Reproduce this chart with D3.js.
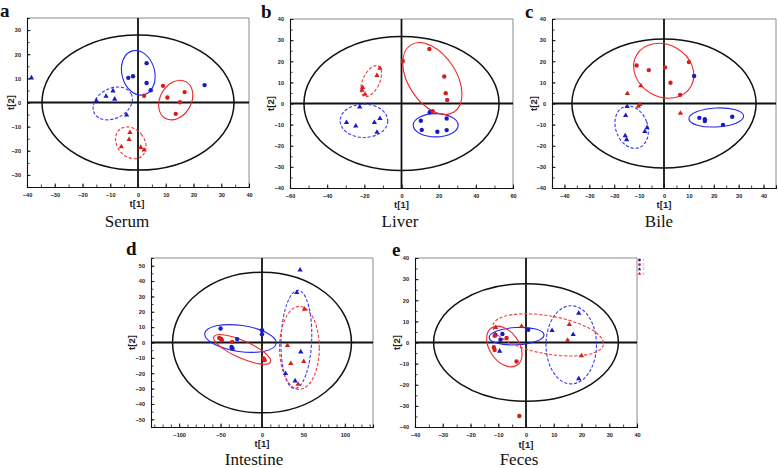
<!DOCTYPE html>
<html><head><meta charset="utf-8">
<script src="https://cdn.jsdelivr.net/npm/d3@7"></script>
<style>body{margin:0;background:#fff}</style>
</head><body><svg id="chart" width="778" height="468"></svg>
<script>
// ---------- data ----------
const panelLetters = ["a", "b", "c", "d", "e"];
const panelTitles = ["Serum", "Liver", "Bile", "Intestine", "Feces"];
const xDomains = [[-40, 40], [-60, 60], [-45, 45], [-134, 134], [-40, 40]];
const yDomains = [[-35, 35], [-40, 40], [-40, 40], [-55, 55], [-40, 40]];
const xTickLabels = [
  [-40, -30, -20, -10, 0, 10, 20, 30, 40],
  [-60, -40, -20, 0, 20, 40, 60],
  [-40, -30, -20, -10, 0, 10, 20, 30, 40],
  [-100, -50, 0, 50, 100],
  [-40, -30, -20, -10, 0, 10, 20, 30, 40]
];
const yTickLabels = [
  [-30, -20, -10, 0, 10, 20, 30],
  [-40, -30, -20, -10, 0, 10, 20, 30, 40],
  [-40, -30, -20, -10, 0, 10, 20, 30, 40],
  [-50, -40, -30, -20, -10, 0, 10, 20, 30, 40, 50],
  [-40, -30, -20, -10, 0, 10, 20, 30, 40]
];
const xMinorStep = [5, 10, 5, 10, 5];
const yMinorStep = [5, 5, 5, 5, 5];
// Hotelling T2 ellipse semi-axes [t1, t2]
const hotellingT2 = [[34.6, 28], [52.5, 31.7], [37, 30.5], [108, 45.8], [33.3, 27.8]];

// Serum
const serumBlueCircles = [[-3.5, 10.2], [-1.8, 10.9], [3.1, 16.3], [3.1, 8.1], [4.6, 5.1], [24, 7.2]];
const serumRedCircles = [[2.2, 2.8], [9.0, 6.9], [10.6, 2.1], [15.1, 0.1], [16.8, 4.3], [13.6, -4.7]];
const serumBlueTriangles = [[-38.4, 10.2], [-15, 0.7], [-11.5, 2.6], [-9, 4.8], [-8.4, 1.4], [-4.1, -5.2]];
const serumRedTriangles = [[-2.9, -12.4], [-3.2, -15.3], [-6, -18.3], [1, -18.6], [2.2, -19.7]];
// group ellipses: [cx, cy, semi t1, semi t2, rotation]
const serumEllipses = [[0.1, 12.3, 5.9, 9.4, -15], [13.6, 1.0, 5.6, 8.7, 30], [-9.1, -0.4, 7.5, 6.2, -28], [-2.6, -16.7, 4.9, 7.2, -40]];

// Liver
const liverBlueCircles = [[15.2, -4.1], [10.4, -8.2], [10.9, -12.5], [19.3, -13.4], [24.3, -7.1], [24.3, -12.6]];
const liverRedCircles = [[0.7, 20.1], [15, 25.8], [23, 12.8], [23.8, 4.9], [24.6, 1.7], [16.8, -3.6]];
const liverBlueTriangles = [[-22.5, -1.6], [-29.6, -9], [-24.6, -10.7], [-14.6, -9], [-11.6, -7.1], [-13.2, -13.6]];
const liverRedTriangles = [[-11.6, 16.7], [-13.2, 13.3], [-20.9, 7.6], [-21.2, 6.3], [-19.6, 4.4]];
const liverEllipses = [[18.4, -10.3, 12.1, 5.5, 0], [16.6, 11.8, 12.9, 18.9, -33], [-20.2, -8.2, 12.8, 7.9, 0], [-16.3, 10.6, 4.5, 7.9, 25]];

// Bile
const bileBlueCircles = [[12.1, 13], [14.2, -6.8], [16.4, -7.4], [16.4, -8.3], [23.7, -10.1], [27.4, -6.3]];
const bileRedCircles = [[-11, 18], [-6.1, 15.8], [0.4, 17.1], [10, 19.6], [2.6, 9.8], [6.5, 4.1]];
const bileBlueTriangles = [[-14.8, -1.4], [-15.4, -5.7], [-6.8, -11.5], [-7.7, -13.3], [-15.6, -15.3], [-15, -17.1]];
const bileRedTriangles = [[-14.7, 4.7], [-9.3, 8.4], [-10.3, -1.3], [-9.7, -0.5], [6.6, -4.6]];
const bileEllipses = [[21, -6.6, 11, 4.5, -3], [-0.1, 15.5, 12.6, 12.3, 30], [-13, -11.2, 6.4, 10.3, -20], null];

// Intestine
const intestineBlueCircles = [[-50, 9.1], [0, 8], [0, 5.4], [-49.2, 2.2], [-36.8, -2.9], [-35.6, -3.9], [-30, 2.2]];
const intestineRedCircles = [[-51.6, 3], [-48.5, 1.5], [-36, 0.4], [2, -10.4], [3.1, -11.5]];
const intestineBlueTriangles = [[46, 47.2], [42, 32.6], [46.8, -6.1], [28.4, -20.2], [40, -25]];
const intestineRedTriangles = [[51.2, 21.7], [30.8, -2], [34.8, -13.7], [50.4, -12.4], [43.6, -27.2]];
const intestineEllipses = [[-26, 2.6, 43.5, 8.5, 8], [-24, -4.5, 37.4, 5.6, 24], [41.5, 2, 18.5, 32, 2], [45.2, -3.5, 24, 27, 0]];

// Feces
const fecesBlueCircles = [[-9.2, 1.3], [-8.5, 4], [0.8, 6], [-11, 3.6]];
const fecesRedCircles = [[-11.3, 3.2], [-11.6, -2.2], [-11.3, -3.5], [-7, 2.1], [-3.4, -9], [-2.4, -34.8]];
const fecesBlueTriangles = [[-9.5, -4.1], [9.4, 5.7], [17, 3.8], [19, 13.9], [19, -17.1]];
const fecesRedTriangles = [[-10.9, 7.1], [-1.6, 7.7], [15.6, 8.5], [15, 1.1], [20, -6.3]];
const fecesEllipses = [[-3.4, 3, 9.9, 4.1, -3], [-7.8, -1.9, 5.3, 10.7, -35], [16.3, -1.1, 9.1, 18.5, 0], [8, 3.6, 20.2, 9, 10]];

const legendLabels = ["1", "2", "3", "4"];

// ---------- layout ----------
const layout = [
  {x0: 27, x1: 249, y0: 18, y1: 187, letter: [0, 17], title: [127, 227], t1y: 207, t2x: 14},
  {x0: 290, x1: 513, y0: 19, y1: 188, letter: [261, 18], title: [400, 227], t1y: 208, t2x: 274},
  {x0: 552, x1: 776, y0: 19, y1: 188, letter: [525, 18], title: [659, 227], t1y: 208, t2x: 537},
  {x0: 151, x1: 373, y0: 258, y1: 427, letter: [126, 255], title: [254, 465], t1y: 447, t2x: 135},
  {x0: 415, x1: 637, y0: 258, y1: 427, letter: [392, 256], title: [519, 465], t1y: 448, t2x: 400}
];
const groupSets = [
  [serumBlueCircles, serumRedCircles, serumBlueTriangles, serumRedTriangles, serumEllipses],
  [liverBlueCircles, liverRedCircles, liverBlueTriangles, liverRedTriangles, liverEllipses],
  [bileBlueCircles, bileRedCircles, bileBlueTriangles, bileRedTriangles, bileEllipses],
  [intestineBlueCircles, intestineRedCircles, intestineBlueTriangles, intestineRedTriangles, intestineEllipses],
  [fecesBlueCircles, fecesRedCircles, fecesBlueTriangles, fecesRedTriangles, fecesEllipses]
];
const markColor = ["#1b1bc4", "#d61e1e", "#1b1bc4", "#d61e1e"];
const lineColor = ["#2626f2", "#f22626", "#3a3af5", "#f53a3a"];
const isTri = [false, false, true, true];

const svg = d3.select("#chart");
const sans = "'Liberation Sans', Arial, sans-serif";
const serif = "'Liberation Serif', 'Times New Roman', serif";

function range(lo, hi, step) {
  const out = [];
  for (let v = Math.ceil(lo / step) * step; v <= hi + 1e-9; v += step) out.push(v);
  return out;
}

layout.forEach((L, i) => {
  const x = d3.scaleLinear().domain(xDomains[i]).range([L.x0, L.x1]);
  const y = d3.scaleLinear().domain(yDomains[i]).range([L.y1, L.y0]);
  const kx = Math.abs(x(1) - x(0)), ky = Math.abs(y(0) - y(1));
  const g = svg.append("g");

  // frame
  g.append("line").attr("x1", L.x0).attr("x2", L.x1).attr("y1", L.y0).attr("y2", L.y0).attr("stroke", "#8a8a8a").attr("stroke-width", 1);
  g.append("line").attr("x1", L.x1).attr("x2", L.x1).attr("y1", L.y0).attr("y2", L.y1).attr("stroke", "#8a8a8a").attr("stroke-width", 1);

  // axes via d3 axis (inward ticks)
  const xMinor = range(xDomains[i][0], xDomains[i][1], xMinorStep[i]);
  const yMinor = range(yDomains[i][0], yDomains[i][1], yMinorStep[i]);
  const xa = g.append("g").attr("transform", `translate(0,${L.y1})`)
    .call(d3.axisBottom(x).tickValues(xMinor).tickSize(-2.5).tickFormat(""));
  const ya = g.append("g").attr("transform", `translate(${L.x0},0)`)
    .call(d3.axisLeft(y).tickValues(yMinor).tickSize(-2.5).tickFormat(""));
  [xa, ya].forEach(a => {
    a.select(".domain").attr("stroke", "#111").attr("stroke-width", 1.1);
    a.selectAll(".tick line").attr("stroke", "#111").attr("stroke-width", 0.8);
  });
  const xl = g.append("g").attr("transform", `translate(0,${L.y1})`)
    .call(d3.axisBottom(x).tickValues(xTickLabels[i]).tickSize(-3.5).tickPadding(6).tickFormat(d3.format("d")));
  const yl = g.append("g").attr("transform", `translate(${L.x0},0)`)
    .call(d3.axisLeft(y).tickValues(yTickLabels[i]).tickSize(-3.5).tickPadding(6).tickFormat(d3.format("d")));
  [xl, yl].forEach(a => {
    a.select(".domain").remove();
    a.selectAll(".tick line").attr("stroke", "#111").attr("stroke-width", 0.9);
    a.selectAll(".tick text").attr("font-family", sans).attr("font-weight", "bold").attr("font-size", 5.6).attr("fill", "#222");
  });

  // zero lines
  g.append("line").attr("x1", L.x0).attr("x2", L.x1).attr("y1", y(0)).attr("y2", y(0)).attr("stroke", "#111").attr("stroke-width", 1.8);
  g.append("line").attr("x1", x(0)).attr("x2", x(0)).attr("y1", L.y0).attr("y2", L.y1).attr("stroke", "#111").attr("stroke-width", 1.8);

  // Hotelling ellipse
  g.append("ellipse").attr("cx", x(0)).attr("cy", y(0))
    .attr("rx", hotellingT2[i][0] * kx).attr("ry", hotellingT2[i][1] * ky)
    .attr("fill", "none").attr("stroke", "#111").attr("stroke-width", 1.5);

  const sets = groupSets[i];
  // group ellipses
  sets[4].forEach((e, k) => {
    if (!e) return;
    g.append("ellipse").attr("cx", 0).attr("cy", 0)
      .attr("rx", e[2] * kx).attr("ry", e[3] * ky)
      .attr("transform", `translate(${x(e[0])},${y(e[1])}) rotate(${e[4]})`)
      .attr("fill", "none").attr("stroke", lineColor[k]).attr("stroke-width", 1.1)
      .attr("stroke-dasharray", isTri[k] ? "3.2,1.8" : null);
  });
  // points
  for (let k = 0; k < 4; k++) {
    const pts = sets[k];
    if (isTri[k]) {
      g.selectAll(null).data(pts).enter().append("path")
        .attr("d", d3.symbol(d3.symbolTriangle, 12)())
        .attr("transform", d => `translate(${x(d[0])},${y(d[1])})`)
        .attr("fill", markColor[k]);
    } else {
      g.selectAll(null).data(pts).enter().append("circle")
        .attr("cx", d => x(d[0])).attr("cy", d => y(d[1])).attr("r", 2.2)
        .attr("fill", markColor[k]);
    }
  }

  // labels
  g.append("text").attr("x", (L.x0 + L.x1) / 2 + (i === 0 ? -1 : 0)).attr("y", L.t1y)
    .attr("text-anchor", "middle").attr("font-family", sans).attr("font-weight", "bold").attr("font-size", 9.5).attr("fill", "#222").text("t[1]");
  g.append("text").attr("transform", `translate(${L.t2x},${(L.y0 + L.y1) / 2}) rotate(-90)`)
    .attr("text-anchor", "middle").attr("font-family", sans).attr("font-weight", "bold").attr("font-size", 9.5).attr("fill", "#222").text("t[2]");
  g.append("text").attr("x", L.title[0]).attr("y", L.title[1]).attr("text-anchor", "middle")
    .attr("font-family", serif).attr("font-size", 17).attr("fill", "#111").text(panelTitles[i]);
  g.append("text").attr("x", L.letter[0]).attr("y", L.letter[1])
    .attr("font-family", serif).attr("font-weight", "bold").attr("font-size", 19).attr("fill", "#111").text(panelLetters[i]);

  // legend (panel e)
  if (i === 4) {
    const lg = g.append("g").attr("transform", `translate(${L.x1 + 2.5},260)`);
    legendLabels.forEach((lab, k) => {
      const row = lg.append("g").attr("transform", `translate(0,${k * 4.6})`);
      if (isTri[k]) row.append("path").attr("d", d3.symbol(d3.symbolTriangle, 5)()).attr("fill", markColor[k]);
      else row.append("circle").attr("r", 1.4).attr("fill", markColor[k]);
      row.append("text").attr("x", 3).attr("y", 1).attr("font-family", sans).attr("font-size", 3).attr("fill", "#777").text(lab);
    });
  }
});
</script>
</body></html>
